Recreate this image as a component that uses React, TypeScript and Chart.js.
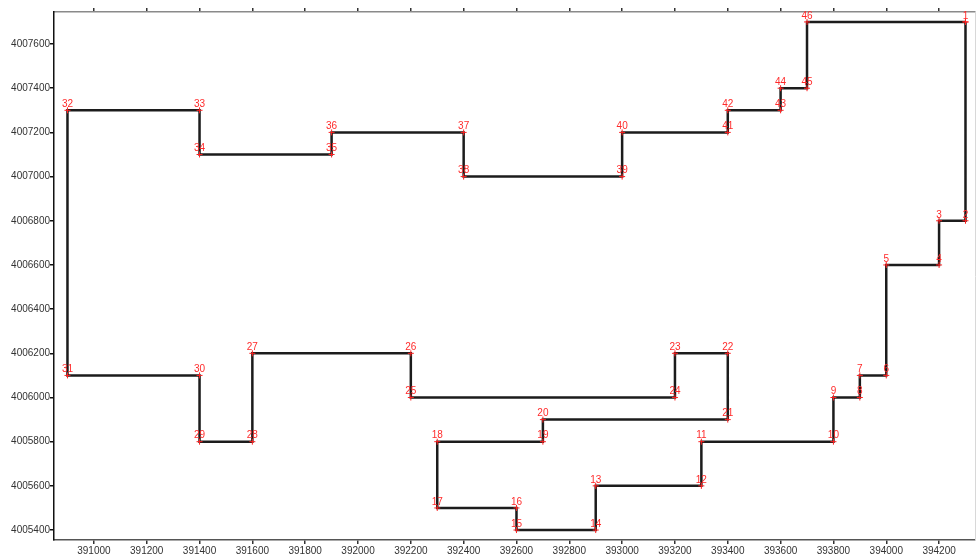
import React, { useEffect, useRef } from "react";
import { Chart, registerables } from "chart.js";

Chart.register(...registerables);

// Boundary vertices (easting / northing), in order 1..46
const pointLabels = [
  "1", "2", "3", "4", "5", "6", "7", "8", "9", "10",
  "11", "12", "13", "14", "15", "16", "17", "18", "19", "20",
  "21", "22", "23", "24", "25", "26", "27", "28", "29", "30",
  "31", "32", "33", "34", "35", "36", "37", "38", "39", "40",
  "41", "42", "43", "44", "45", "46",
];
const eastings = [
  394300, 394300, 394200, 394200, 394000, 394000, 393900, 393900, 393800, 393800,
  393300, 393300, 392900, 392900, 392600, 392600, 392300, 392300, 392700, 392700,
  393400, 393400, 393200, 393200, 392200, 392200, 391600, 391600, 391400, 391400,
  390900, 390900, 391400, 391400, 391900, 391900, 392400, 392400, 393000, 393000,
  393400, 393400, 393600, 393600, 393700, 393700,
];
const northings = [
  4007700, 4006800, 4006800, 4006600, 4006600, 4006100, 4006100, 4006000, 4006000, 4005800,
  4005800, 4005600, 4005600, 4005400, 4005400, 4005500, 4005500, 4005800, 4005800, 4005900,
  4005900, 4006200, 4006200, 4006000, 4006000, 4006200, 4006200, 4005800, 4005800, 4006100,
  4006100, 4007300, 4007300, 4007100, 4007100, 4007200, 4007200, 4007000, 4007000, 4007200,
  4007200, 4007300, 4007300, 4007400, 4007400, 4007700,
];

const xTickValues = [
  391000, 391200, 391400, 391600, 391800, 392000, 392200, 392400, 392600,
  392800, 393000, 393200, 393400, 393600, 393800, 394000, 394200,
];
const yTickValues = [
  4005400, 4005600, 4005800, 4006000, 4006200, 4006400, 4006600,
  4006800, 4007000, 4007200, 4007400, 4007600,
];

const X_MIN = 390849;
const X_MAX = 394336;
const Y_MIN = 4005355;
const Y_MAX = 4007745;

const FONT = "'Liberation Sans', Arial, sans-serif";

const labelPlugin = {
  id: "vertexLabels",
  afterDatasetsDraw(chart: any) {
    const meta = chart.getDatasetMeta(0);
    const ctx = chart.ctx;
    ctx.save();
    ctx.fillStyle = "#ff2a2a";
    ctx.font = `10px ${FONT}`;
    ctx.textAlign = "center";
    ctx.textBaseline = "bottom";
    pointLabels.forEach((lab, i) => {
      const el = meta.data[i];
      if (!el) return;
      ctx.fillText(lab, el.x, el.y - 1);
    });
    ctx.restore();
  },
};

export default function App() {
  const ref = useRef<HTMLCanvasElement | null>(null);

  useEffect(() => {
    if (!ref.current) return;
    const pts = eastings.map((x, i) => ({ x, y: northings[i] }));
    pts.push({ x: eastings[0], y: northings[0] });

    const setTicks = (values: number[]) => (scale: any) => {
      scale.ticks = values.map((v) => ({ value: v }));
    };

    const chart = new Chart(ref.current, {
      type: "scatter",
      data: {
        datasets: [
          {
            data: pts,
            showLine: true,
            borderColor: "#1c1c1c",
            borderWidth: 2.5,
            pointStyle: "cross",
            pointRadius: 3,
            pointBorderColor: "#ff2020",
            pointBorderWidth: 1,
            pointBackgroundColor: "#ff2020",
            tension: 0,
          },
        ],
      },
      options: {
        animation: false,
        responsive: true,
        maintainAspectRatio: false,
        layout: { padding: 0 },
        plugins: {
          legend: { display: false },
          tooltip: { enabled: false },
        },
        scales: {
          x: {
            type: "linear",
            position: "bottom",
            min: X_MIN,
            max: X_MAX,
            afterBuildTicks: setTicks(xTickValues),
            afterFit: (s: any) => {
              s.height = 16;
            },
            ticks: {
              font: { size: 10, family: FONT },
              color: "#333",
              padding: 1,
              maxRotation: 0,
              autoSkip: false,
              callback: (v: any) => String(v),
            },
            grid: {
              display: true,
              drawOnChartArea: false,
              drawTicks: true,
              tickLength: 4,
              color: "#333",
              lineWidth: 1.5,
            },
            border: { display: true, color: "#555", width: 1.5 },
          },
          x2: {
            type: "linear",
            position: "top",
            min: X_MIN,
            max: X_MAX,
            afterBuildTicks: setTicks(xTickValues),
            afterFit: (s: any) => {
              s.height = 12;
            },
            ticks: { display: false },
            grid: {
              display: true,
              drawOnChartArea: false,
              drawTicks: true,
              tickLength: 4,
              color: "#333",
              lineWidth: 1.5,
            },
            border: { display: true, color: "#8a8a8a", width: 1.5 },
          },
          y: {
            type: "linear",
            position: "left",
            min: Y_MIN,
            max: Y_MAX,
            afterBuildTicks: setTicks(yTickValues),
            afterFit: (s: any) => {
              s.width = 54;
            },
            ticks: {
              font: { size: 10, family: FONT },
              color: "#333",
              padding: 0,
              autoSkip: false,
              callback: (v: any) => String(v),
            },
            grid: {
              display: true,
              drawOnChartArea: false,
              drawTicks: true,
              tickLength: 4,
              color: "#111",
              lineWidth: 1.5,
            },
            border: { display: true, color: "#111", width: 1.5 },
          },
          y2: {
            type: "linear",
            position: "right",
            min: Y_MIN,
            max: Y_MAX,
            afterFit: (s: any) => {
              s.width = 3;
            },
            ticks: { display: false },
            grid: { display: false },
            border: { display: true, color: "#d8d8d8", width: 1 },
          },
        },
      } as any,
      plugins: [labelPlugin],
    });
    return () => chart.destroy();
  }, []);

  return (
    <div
      style={{
        position: "fixed",
        left: 0,
        top: 0,
        width: 980,
        height: 556,
        background: "#fff",
      }}
    >
      <canvas ref={ref} />
    </div>
  );
}
